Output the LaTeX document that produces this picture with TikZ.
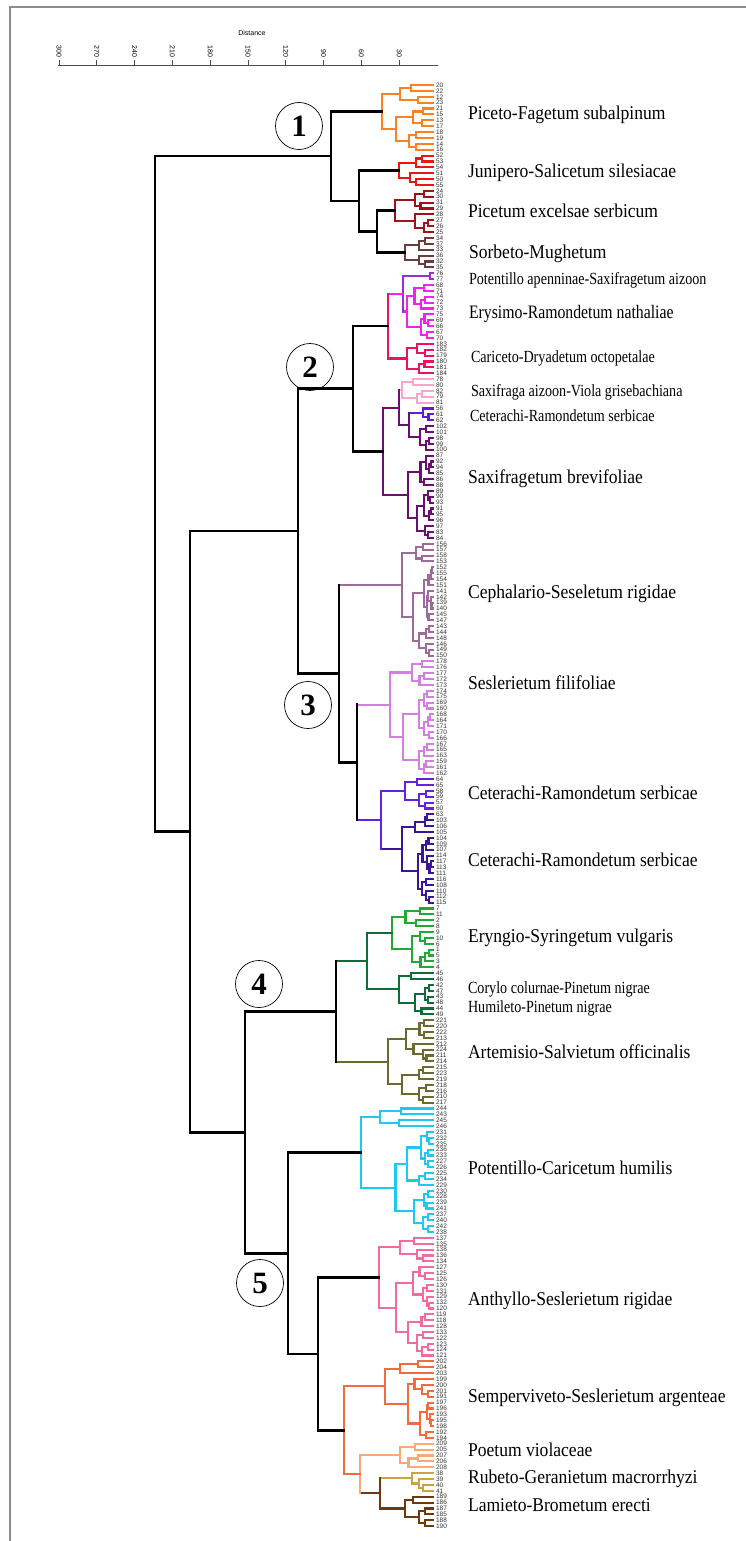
\documentclass[tikz,border=0pt]{standalone}
\usepackage{fontspec}
\usepackage{graphicx}
\setmainfont{Liberation Serif}
\newfontfamily\axisfont{Liberation Sans}
\usetikzlibrary{calc}

\definecolor{cO}{HTML}{FF801C}
\definecolor{cR}{HTML}{EE1414}
\definecolor{cDR}{HTML}{A01218}
\definecolor{cBR}{HTML}{6B3E3E}
\definecolor{cV}{HTML}{9A30CC}
\definecolor{cM}{HTML}{F022F0}
\definecolor{cC}{HTML}{F0105C}
\definecolor{cP}{HTML}{F6A8CC}
\definecolor{cB}{HTML}{5A1CE0}
\definecolor{cDP}{HTML}{6A0F70}
\definecolor{cCE}{HTML}{9C6B9C}
\definecolor{cSE}{HTML}{D27FE0}
\definecolor{cCTa}{HTML}{6420E6}
\definecolor{cCTb}{HTML}{3A1696}
\definecolor{cGA}{HTML}{22A834}
\definecolor{cGB}{HTML}{106B3A}
\definecolor{cOL}{HTML}{6B6B2F}
\definecolor{cCY}{HTML}{1EC8F0}
\definecolor{cAN}{HTML}{F36B9C}
\definecolor{cSV}{HTML}{F56A3A}
\definecolor{cPO}{HTML}{F9A87A}
\definecolor{cRU}{HTML}{C9A441}
\definecolor{cLA}{HTML}{6B3A0E}

\newcommand\leafx{433}
% condensed names
\newcommand\nm[1]{\scalebox{0.9}[1]{#1}}
\newcommand\nms[1]{\scalebox{0.83}[1]{#1}}

% recursive sub-tree of leaves #1..#2, root at x=#3, first split #4 (0 = free)
\newcommand\sub[4]{%
  \begingroup
  \edef\sbA{#1}\edef\sbB{#2}\edef\sbX{#3}\edef\sbF{#4}%
  \ifnum\sbA=\sbB\relax
    \pgfmathsetmacro\sbY{85+(\sbA-1)*5.882}\xdef\rety{\sbY}%
  \else
    \pgfmathtruncatemacro\sbN{\sbB-\sbA+1}%
    \ifnum\sbF>0 \edef\sbK{\sbF}\else
      \pgfmathtruncatemacro\sbK{max(1,min(\sbN-1,round(\sbN*(0.3+0.4*rnd))))}\fi
    \pgfmathtruncatemacro\sbM{\sbA+\sbK-1}%
    \pgfmathtruncatemacro\sbMM{\sbM+1}%
    \pgfmathsetmacro\sbH{\leafx-\sbX}%
    \ifnum\sbM=\sbA\relax\edef\sbXL{\leafx}\else\pgfmathsetmacro\sbXL{\leafx-\sbH*(0.45+0.3*rnd)}\fi
    \ifnum\sbMM=\sbB\relax\edef\sbXR{\leafx}\else\pgfmathsetmacro\sbXR{\leafx-\sbH*(0.45+0.3*rnd)}\fi
    \sub{\sbA}{\sbM}{\sbXL}{0}\let\sbYL\rety
    \sub{\sbMM}{\sbB}{\sbXR}{0}\let\sbYR\rety
    \draw (\sbXL,\sbYL) -- (\sbX,\sbYL) -- (\sbX,\sbYR) -- (\sbXR,\sbYR);
    \pgfmathsetmacro\sbY{(\sbYL+\sbYR)/2}\xdef\rety{\sbY}%
  \fi
  \endgroup}

% coloured cluster: name, first leaf, last leaf, root x, first split, colour
\newcommand\clus[6]{%
  \begin{scope}[color=#6]
    \sub{#2}{#3}{#4}{#5}
  \end{scope}
  \coordinate (#1) at (#4,\rety);}

% join of two named roots: name, upper, lower, x, vertical style, upper style, lower style
\newcommand\jn[7]{%
  \coordinate (jx) at (#4,0);
  \draw[#6] (#2) -- (#2 -| jx);
  \draw[#7] (#3) -- (#3 -| jx);
  \draw[#5] (#2 -| jx) -- (#3 -| jx);
  \coordinate (#1) at ($(#2 -| jx)!.5!(#3 -| jx)$);}

\begin{document}
\begin{tikzpicture}[x=1pt, y=-1pt, line width=2.1pt, line cap=rect,
    trunk/.style={black, line width=2.6pt},
    lab/.style={anchor=base west, inner sep=0pt, font=\fontsize{19.5}{19.5}\selectfont},
    labsm/.style={anchor=base west, inner sep=0pt, font=\fontsize{17}{17}\selectfont},
    leaf/.style={anchor=west, inner sep=0pt, text=black!80, font=\axisfont\fontsize{6.5}{6.5}\selectfont},
    numcirc/.style={circle, draw, line width=0.7pt, minimum size=47pt, inner sep=0pt,
      font=\fontsize{31}{31}\selectfont\bfseries}]
\pgfmathsetseed{11}
\useasboundingbox (0,0) rectangle (746,1541);

% frame
\draw[black!45, line width=1.4pt, line cap=butt] (746,7) -- (10,7) -- (10,1541);

% Distance axis
\node[font=\axisfont\fontsize{7}{7}\selectfont] (dist) at (252,33) {Distance};
\draw[black!70, line width=0.8pt, line cap=butt] (58,65) -- (438,65);
\foreach \d in {30,60,...,300} {
  \draw[black!70, line width=0.8pt, line cap=butt] ({437-1.26*\d},65) -- ({437-1.26*\d},60);
  \node[rotate=-90, anchor=east, inner sep=1pt, font=\axisfont\fontsize{7}{7}\selectfont]
    at ({437-1.26*\d},59) {\d};
}

% --------------------------------------------------
% group 1
% --------------------------------------------------
\clus{O}{1}{12}{382}{4}{cO}
\clus{R}{13}{18}{399}{3}{cR}
\clus{DR}{19}{26}{395}{4}{cDR}
\clus{BR}{27}{32}{405}{3}{cBR}
\jn{jDB}{DR}{BR}{377}{trunk}{trunk}{trunk}
\jn{jRDB}{R}{jDB}{359}{trunk}{trunk}{trunk}
\jn{j1}{O}{jRDB}{331}{trunk}{trunk}{trunk}

% --------------------------------------------------
% group 2
% --------------------------------------------------
\clus{V}{33}{34}{430}{1}{cV}
\clus{M}{35}{44}{407}{5}{cM}
\clus{C}{45}{50}{407}{3}{cC}
\jn{jVM}{V}{M}{403}{cV}{cV}{cM}
\jn{jVMC}{jVM}{C}{388}{cC}{cM}{cC}
\clus{P}{51}{55}{402}{2}{cP}
\clus{B}{56}{58}{423}{1}{cB}
\clus{DPa}{59}{63}{420}{2}{cDP}
\clus{DPb}{64}{78}{408}{6}{cDP}
\jn{jB}{B}{DPa}{409}{cDP}{cB}{cDP}
\jn{jPB}{P}{jB}{399}{cDP}{cP}{cDP}
\jn{jDP}{jPB}{DPb}{383}{cDP}{cDP}{cDP}
\jn{j2}{jVMC}{jDP}{353}{trunk}{trunk}{trunk}

% --------------------------------------------------
% group 3
% --------------------------------------------------
\clus{CE}{79}{98}{402}{4}{cCE}
\clus{SE}{99}{118}{390}{5}{cSE}
\clus{CTa}{119}{124}{405}{2}{cCTa}
\clus{CTb}{125}{140}{402}{4}{cCTb}
\jn{jCT}{CTa}{CTb}{381}{cCTa}{cCTa}{cCTb}
\jn{jSC}{SE}{jCT}{357}{trunk}{cSE}{cCTa}
\jn{j3}{CE}{jSC}{339}{trunk}{cCE}{trunk}
\jn{j23}{j2}{j3}{298}{trunk}{trunk}{trunk}

% --------------------------------------------------
% group 4
% --------------------------------------------------
\clus{GA}{141}{151}{392}{4}{cGA}
\clus{GB}{152}{159}{399}{2}{cGB}
\clus{OL}{160}{174}{388}{8}{cOL}
\jn{jG}{GA}{GB}{367}{cGB}{cGB}{cGB}
\jn{j4}{jG}{OL}{336}{trunk}{cGB}{cOL}

% --------------------------------------------------
% group 5
% --------------------------------------------------
\clus{CY}{175}{196}{361}{4}{cCY}
\clus{AN}{197}{217}{379}{5}{cAN}
\clus{SV}{218}{231}{385}{3}{cSV}
\clus{PO}{232}{236}{400}{2}{cPO}
\clus{RU}{237}{240}{412}{1}{cRU}
\clus{LA}{241}{246}{405}{2}{cLA}
\jn{jRL}{RU}{LA}{380}{cLA}{cRU}{cLA}
\jn{jPRL}{PO}{jRL}{360}{cPO}{cPO}{cLA}
\jn{jS}{SV}{jPRL}{344}{cSV}{cSV}{cSV}
\jn{jAS}{AN}{jS}{318}{trunk}{trunk}{trunk}
\jn{jCAS}{CY}{jAS}{288}{trunk}{trunk}{trunk}
\jn{j45}{j4}{jCAS}{245}{trunk}{trunk}{trunk}

% trunk
\jn{jL}{j23}{j45}{190}{trunk}{trunk}{trunk}
\jn{root}{j1}{jL}{155}{trunk}{trunk}{trunk}

% leaf numbers
\foreach \lab [count=\i] in {20,22,12,23,21,15,13,17,18,19,14,16,
  52,53,54,51,50,55, 24,30,31,29,28,27,26,25, 34,37,33,36,32,35,
  76,77, 68,71,74,72,73,75,69,66,67,70, 183,182,179,180,181,184,
  78,80,82,79,81, 56,61,62, 102,101,98,99,100,
  87,92,94,85,86,88,89,90,93,91,95,96,97,83,84,
  156,157,158,153,152,155,154,151,141,142,139,140,145,147,143,144,148,146,149,150,
  178,176,177,172,173,174,175,169,160,168,164,171,170,166,167,165,163,159,161,162,
  64,65,58,59,57,60, 63,103,106,105,104,109,107,114,117,113,111,116,108,110,112,115,
  7,11,2,8,9,10,6,1,5,3,4, 45,46,42,47,43,48,44,49,
  221,220,222,213,212,224,211,214,215,223,219,218,216,210,217,
  244,243,245,246,231,232,235,236,233,227,226,225,234,229,230,228,239,241,237,240,242,238,
  137,135,138,136,134,127,125,126,130,131,129,132,120,119,118,128,133,122,123,124,121,
  202,204,203,199,200,201,191,197,196,193,195,198,192,194,
  209,205,207,206,208, 38,39,40,41, 189,186,187,185,188,190}
  \node[leaf] (l\i) at (435,{85+(\i-1)*5.882}) {\lab};

% group numbers
\node[numcirc] (n1) at (299,126) {1};
\node[numcirc] (n2) at (310,367) {2};
\node[numcirc] (n3) at (308,705) {3};
\node[numcirc] (n4) at (259,984) {4};
\node[numcirc] (n5) at (260,1283) {5};

% association names
\node[lab] (a1) at (467,119.5) {\nm{Piceto-Fagetum subalpinum}};
\node[lab] (a2) at (467,177.5) {\nm{Junipero-Salicetum silesiacae}};
\node[lab] (a3) at (467,218) {\nm{Picetum excelsae serbicum}};
\node[lab] (a4) at (468,258) {\nm{Sorbeto-Mughetum}};
\node[labsm] (a5) at (468,284) {\nms{Potentillo apenninae-Saxifragetum aizoon}};
\node[lab, font=\fontsize{19}{19}\selectfont] (a6) at (468,318.5)
  {\scalebox{0.83}[1]{Erysimo-Ramondetum nathaliae}};
\node[labsm] (a7) at (470,362.5) {\nms{Cariceto-Dryadetum octopetalae}};
\node[labsm] (a8) at (470,396) {\nms{Saxifraga aizoon-Viola grisebachiana}};
\node[labsm] (a9) at (469,421.5) {\nms{Ceterachi-Ramondetum serbicae}};
\node[lab] (a10) at (467,483.5) {\nm{Saxifragetum brevifoliae}};
\node[lab] (a11) at (467,598.5) {\nm{Cephalario-Seseletum rigidae}};
\node[lab] (a12) at (467,689.5) {\nm{Seslerietum filifoliae}};
\node[lab] (a13) at (467,799.5) {\nm{Ceterachi-Ramondetum serbicae}};
\node[lab] (a14) at (467,866.5) {\nm{Ceterachi-Ramondetum serbicae}};
\node[lab] (a15) at (467,942.5) {\nm{Eryngio-Syringetum vulgaris}};
\node[labsm] (a16) at (467,993.7) {\nms{Corylo colurnae-Pinetum nigrae}};
\node[labsm] (a17) at (467,1012.7) {\nms{Humileto-Pinetum nigrae}};
\node[lab] (a18) at (467,1058.5) {\nm{Artemisio-Salvietum officinalis}};
\node[lab] (a19) at (467,1174.5) {\nm{Potentillo-Caricetum humilis}};
\node[lab] (a20) at (467,1305.5) {\nm{Anthyllo-Seslerietum rigidae}};
\node[lab] (a21) at (467,1402.5) {\nm{Semperviveto-Seslerietum argenteae}};
\node[lab] (a22) at (467,1456.5) {\nm{Poetum violaceae}};
\node[lab] (a23) at (467,1483.5) {\nm{Rubeto-Geranietum macrorrhyzi}};
\node[lab] (a24) at (467,1511.5) {\nm{Lamieto-Brometum erecti}};

\end{tikzpicture}
\end{document}
